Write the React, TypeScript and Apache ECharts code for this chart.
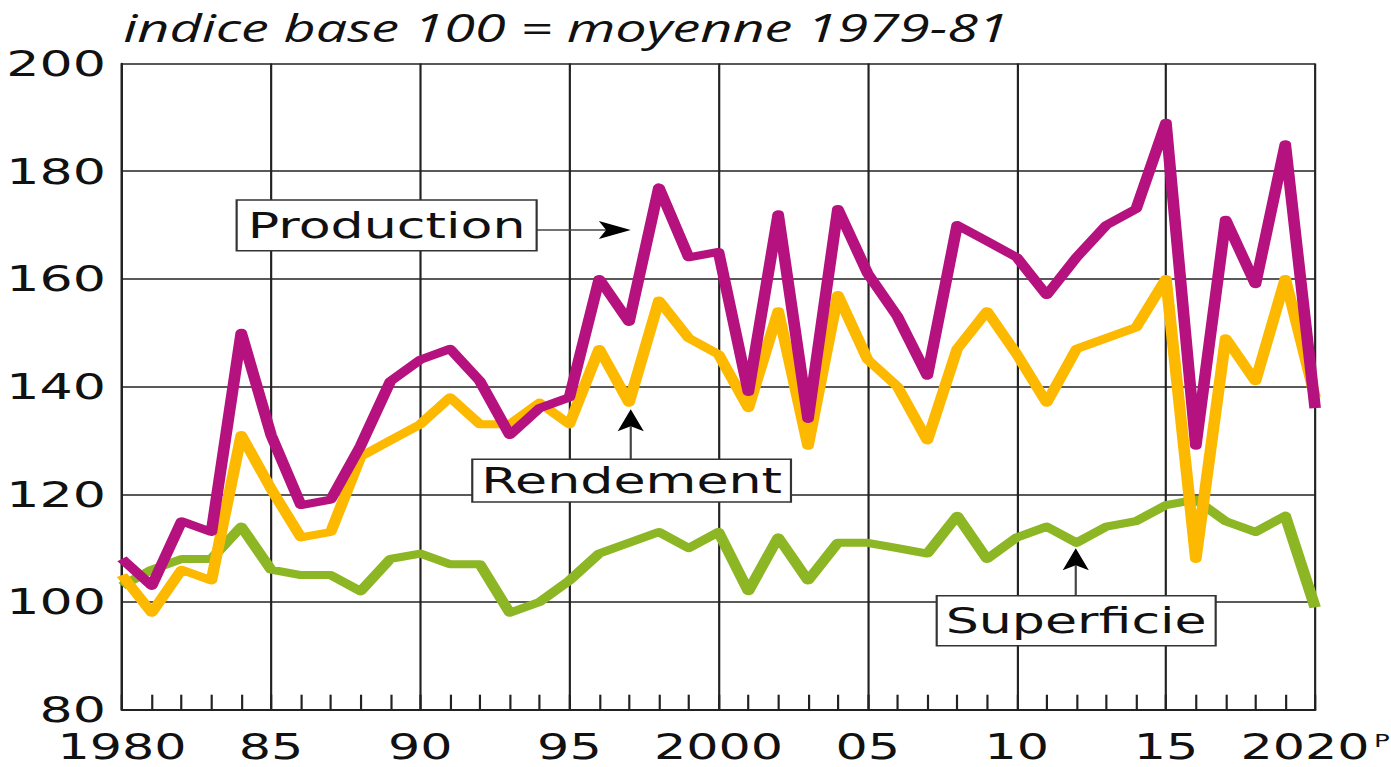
import React, { useEffect, useRef } from "react";
import * as echarts from "echarts";

// ---- data ----
const years = [
  1980, 1981, 1982, 1983, 1984, 1985, 1986, 1987, 1988, 1989,
  1990, 1991, 1992, 1993, 1994, 1995, 1996, 1997, 1998, 1999,
  2000, 2001, 2002, 2003, 2004, 2005, 2006, 2007, 2008, 2009,
  2010, 2011, 2012, 2013, 2014, 2015, 2016, 2017, 2018, 2019, 2020,
];
const production = [
  108, 103, 115, 113, 150, 131, 118, 119, 129, 141,
  145, 147, 141, 131, 136, 138, 160, 152, 177, 164,
  165, 139, 172, 134, 173, 161, 153, 142, 170, 167,
  164, 157, 164, 170, 173, 189, 129, 171, 159, 185, 136,
];
const rendement = [
  105, 98, 106, 104, 131, 121, 112, 113, 127, 130,
  133, 138, 133, 133, 137, 133, 147, 137, 156, 149,
  146, 136, 154, 129, 157, 145, 140, 130, 147, 154,
  146, 137, 147, 149, 151, 160, 108, 149, 141, 160, 138,
];
const superficie = [
  103, 106, 108, 108, 114, 106, 105, 105, 102, 108,
  109, 107, 107, 98, 100, 104, 109, 111, 113, 110,
  113, 102, 112, 104, 111, 111, 110, 109, 116, 108,
  112, 114, 111, 114, 115, 118, 119, 115, 113, 116, 99,
];
const xTickYears = [1980, 1985, 1990, 1995, 2000, 2005, 2010, 2015, 2020];
const xTickLabels = ["1980", "85", "90", "95", "2000", "05", "10", "15", "2020"];
const provisionalYear = 2020;
const yMin = 80;
const yMax = 200;
const yStep = 20;
const titleText = "indice base 100 = moyenne 1979-81";

// ---- layout ----
const STRETCH = 1.45; // reference picture is stretched horizontally
const PAGE_W = 1391;
const PAGE_H = 767;
const W = PAGE_W / STRETCH;
const FONT = '"DejaVu Sans", Verdana, sans-serif';
const PURPLE = "#B5127F";
const YELLOW = "#FDB900";
const GREEN = "#8DB624";
const GRID = "#222";

function annotation(
  label: string,
  box: { x: number; y: number; w: number; h: number },
  arrow: { x1: number; y1: number; x2: number; y2: number; dir: "right" | "up" }
) {
  const headLen = 22;
  const half = 9;
  let poly: number[][];
  let lineEnd: { x: number; y: number };
  if (arrow.dir === "right") {
    poly = [
      [arrow.x2, arrow.y2],
      [arrow.x2 - headLen, arrow.y2 - half],
      [arrow.x2 - headLen + 5, arrow.y2],
      [arrow.x2 - headLen, arrow.y2 + half],
    ];
    lineEnd = { x: arrow.x2 - headLen + 5, y: arrow.y2 };
  } else {
    poly = [
      [arrow.x2, arrow.y2],
      [arrow.x2 - half, arrow.y2 + headLen],
      [arrow.x2, arrow.y2 + headLen - 5],
      [arrow.x2 + half, arrow.y2 + headLen],
    ];
    lineEnd = { x: arrow.x2, y: arrow.y2 + headLen - 5 };
  }
  return [
    {
      type: "line",
      z: 100,
      shape: { x1: arrow.x1, y1: arrow.y1, x2: lineEnd.x, y2: lineEnd.y },
      style: { stroke: "#444", lineWidth: 1.5 },
    },
    {
      type: "polygon",
      z: 101,
      shape: { points: poly },
      style: { fill: "#000" },
    },
    {
      type: "rect",
      z: 102,
      shape: { x: box.x, y: box.y, width: box.w, height: box.h },
      style: { fill: "#fff", stroke: "#333", lineWidth: 1.5 },
    },
    {
      type: "text",
      z: 103,
      x: box.x + box.w / 2,
      y: box.y + box.h / 2,
      style: {
        text: label,
        fontSize: 36,
        fontFamily: FONT,
        fill: "#111",
        align: "center",
        verticalAlign: "middle",
        textAlign: "center",
        textVerticalAlign: "middle",
      },
    },
  ];
}

export default function App() {
  const ref = useRef<HTMLDivElement>(null);

  useEffect(() => {
    if (!ref.current) return;
    const chart = echarts.init(ref.current, null, { renderer: "svg" });

    const pairs = (vals: number[]) => years.map((y, i) => [y, vals[i]]);

    const option: any = {
      animation: false,
      backgroundColor: "#fff",
      title: {
        text: titleText,
        left: 80,
        top: 3,
        textStyle: {
          fontFamily: '"Open Sans", sans-serif',
          fontStyle: "italic",
          fontWeight: "normal",
          fontSize: 38.5,
          color: "#111",
        },
      },
      grid: {
        left: 84.1,
        right: W - 907.3,
        top: 63.5,
        bottom: PAGE_H - 709.7,
        containLabel: false,
        outerBoundsMode: "none",
      },
      xAxis: {
        type: "value",
        min: 1980,
        max: 2020,
        interval: 5,
        axisLine: { show: true, lineStyle: { color: GRID, width: 2 } },
        axisTick: { show: true, inside: true, length: 15, lineStyle: { color: GRID, width: 1.5 } },
        minorTick: { show: true, splitNumber: 5, length: 15, lineStyle: { color: GRID, width: 1.5 } },
        splitLine: { show: true, lineStyle: { color: GRID, width: 1.5 } },
        axisLabel: {
          margin: 22,
          hideOverlap: false,
          formatter: (v: number) => {
            const i = xTickYears.indexOf(v);
            if (i < 0) return "";
            const t = xTickLabels[i];
            return v === provisionalYear ? `{a|${t}}{p|P}` : `{a|${t}}`;
          },
          rich: {
            a: { fontSize: 35, lineHeight: 30, fontFamily: FONT, color: "#111" },
            p: { fontSize: 18, lineHeight: 30, fontFamily: FONT, color: "#111", verticalAlign: "top", padding: [0, 0, 0, 3] },
          },
        },
      },
      yAxis: {
        type: "value",
        min: yMin,
        max: yMax,
        interval: yStep,
        axisLine: { show: true, lineStyle: { color: GRID, width: 1.5 } },
        axisTick: { show: false },
        splitLine: { show: true, lineStyle: { color: GRID, width: 1.5 } },
        axisLabel: { margin: 11, fontSize: 36, fontFamily: FONT, color: "#111" },
      },
      series: [
        {
          name: "Superficie",
          type: "line",
          data: pairs(superficie),
          symbol: "none",
          z: 3,
          lineStyle: { color: GREEN, width: 8, join: "round", cap: "butt" },
        },
        {
          name: "Rendement",
          type: "line",
          data: pairs(rendement),
          symbol: "none",
          z: 4,
          lineStyle: { color: YELLOW, width: 8, join: "round", cap: "butt" },
        },
        {
          name: "Production",
          type: "line",
          data: pairs(production),
          symbol: "none",
          z: 5,
          lineStyle: { color: PURPLE, width: 8, join: "round", cap: "butt" },
        },
      ],
      graphic: [
        ...annotation(
          "Production",
          { x: 163.2, y: 200, w: 206.9, h: 50.7 },
          { x1: 370.1, y1: 230, x2: 435, y2: 230, dir: "right" }
        ),
        ...annotation(
          "Rendement",
          { x: 325.7, y: 459.3, w: 219.8, h: 42.7 },
          { x1: 435, y1: 459.3, x2: 435, y2: 409.3, dir: "up" }
        ),
        ...annotation(
          "Superficie",
          { x: 646, y: 595.7, w: 192.4, h: 50 },
          { x1: 741.9, y1: 595.7, x2: 741.9, y2: 548.3, dir: "up" }
        ),
      ],
    };

    chart.setOption(option);
    return () => chart.dispose();
  }, []);

  return (
    <div
      style={{
        position: "fixed",
        left: 0,
        top: 0,
        width: PAGE_W,
        height: PAGE_H,
        overflow: "hidden",
        background: "#fff",
      }}
    >
      <div
        ref={ref}
        style={{
          width: W,
          height: PAGE_H,
          transform: `scaleX(${STRETCH})`,
          transformOrigin: "0 0",
        }}
      />
    </div>
  );
}
